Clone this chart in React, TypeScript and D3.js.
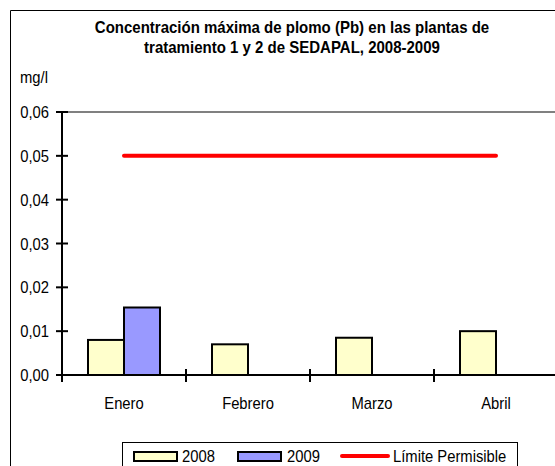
import React from "react";
import * as d3 from "d3";

const categories = ["Enero", "Febrero", "Marzo", "Abril"];
const series2008 = [0.008, 0.007, 0.0085, 0.01];
const series2009: (number | null)[] = [0.0154, null, null, null];
const limite = [0.05, 0.05, 0.05, 0.05];
const yTicks = [0, 0.01, 0.02, 0.03, 0.04, 0.05, 0.06];
const titleLines = [
  "Concentración máxima de plomo (Pb) en las plantas de",
  "tratamiento 1 y 2 de SEDAPAL, 2008-2009",
];

const W = 555;
const H = 466;
const FONT = "'Liberation Sans', Arial, sans-serif";

type TProps = {
  x: number;
  y: number;
  size: number;
  sx: number;
  anchor?: "start" | "middle" | "end";
  bold?: boolean;
  children: React.ReactNode;
};
function T({ x, y, size, sx, anchor = "start", bold, children }: TProps) {
  return (
    <text
      transform={`translate(${x},${y}) scale(${sx},1)`}
      textAnchor={anchor}
      fontSize={size}
      fontWeight={bold ? "bold" : "normal"}
    >
      {children}
    </text>
  );
}

export default function App() {
  const x0 = 62;
  const x1 = 558;
  const yTop = 112;
  const yBot = 375;
  const x = d3.scaleBand<string>().domain(categories).range([x0, x1]);
  const y = d3.scaleLinear().domain([0, 0.06]).range([yBot, yTop]);
  const barW = 36;
  const fmt = (v: number) => v.toFixed(2).replace(".", ",");
  const line = d3
    .line<number>()
    .x((_, i) => x(categories[i])! + x.bandwidth() / 2)
    .y((d) => y(d));
  const FS = 17;
  const SX = 0.87;

  return (
    <svg
      width={W}
      height={H}
      style={{ position: "absolute", left: 0, top: 0 }}
      fontFamily={FONT}
    >
      <rect x={0} y={0} width={W} height={H} fill="#fff" />
      <path d={`M10.5,${H + 5} V10.5 H${W + 5}`} fill="none" stroke="#000" strokeWidth={1} />
      {titleLines.map((t, i) => (
        <T key={i} x={292} y={33 + i * 20} size={16.5} sx={0.91} anchor="middle" bold>
          {t}
        </T>
      ))}
      <T x={20} y={83} size={FS} sx={SX}>
        mg/l
      </T>
      {/* top gridline */}
      <line x1={x0} x2={W} y1={y(0.06)} y2={y(0.06)} stroke="#808080" strokeWidth={2} />
      {/* bars */}
      {categories.map((c, i) => (
        <g key={c}>
          <rect
            x={x(c)! + x.bandwidth() / 2 - barW}
            y={y(series2008[i])}
            width={barW}
            height={y(0) - y(series2008[i])}
            fill="#FFFFCC"
            stroke="#000"
            strokeWidth={2}
          />
          {series2009[i] != null && (
            <rect
              x={x(c)! + x.bandwidth() / 2}
              y={y(series2009[i] as number)}
              width={barW}
              height={y(0) - y(series2009[i] as number)}
              fill="#9999FF"
              stroke="#000"
              strokeWidth={2}
            />
          )}
        </g>
      ))}
      {/* limit line */}
      <path d={line(limite)!} fill="none" stroke="#FF0000" strokeWidth={4} strokeLinecap="round" />
      {/* y axis */}
      <line x1={x0} x2={x0} y1={yTop} y2={yBot} stroke="#000" strokeWidth={2} />
      {yTicks.map((t) => (
        <g key={t}>
          <line x1={x0 - 6} x2={x0 + 6} y1={y(t)} y2={y(t)} stroke="#000" strokeWidth={2} />
          <T x={49} y={y(t) + 6} size={FS} sx={SX} anchor="end">
            {fmt(t)}
          </T>
        </g>
      ))}
      {/* x axis */}
      <line x1={x0} x2={W} y1={yBot} y2={yBot} stroke="#000" strokeWidth={2} />
      {categories.map((c) => (
        <g key={c}>
          <line x1={x(c)!} x2={x(c)!} y1={yBot - 6} y2={yBot + 7} stroke="#000" strokeWidth={2} />
          <T x={x(c)! + x.bandwidth() / 2} y={409} size={FS} sx={SX} anchor="middle">
            {c}
          </T>
        </g>
      ))}
      {/* legend */}
      <rect x={122.5} y={442.5} width={395} height={40} fill="#fff" stroke="#000" strokeWidth={1} />
      <rect x={134} y={452} width={43} height={9} fill="#FFFFCC" stroke="#000" strokeWidth={2} />
      <T x={182} y={462} size={FS} sx={SX}>2008</T>
      <rect x={238} y={452} width={43} height={9} fill="#9999FF" stroke="#000" strokeWidth={2} />
      <T x={287} y={462} size={FS} sx={SX}>2009</T>
      <line x1={342} x2={388} y1={456} y2={456} stroke="#FF0000" strokeWidth={4} strokeLinecap="round" />
      <T x={393} y={462} size={FS} sx={SX}>Límite Permisible</T>
    </svg>
  );
}
